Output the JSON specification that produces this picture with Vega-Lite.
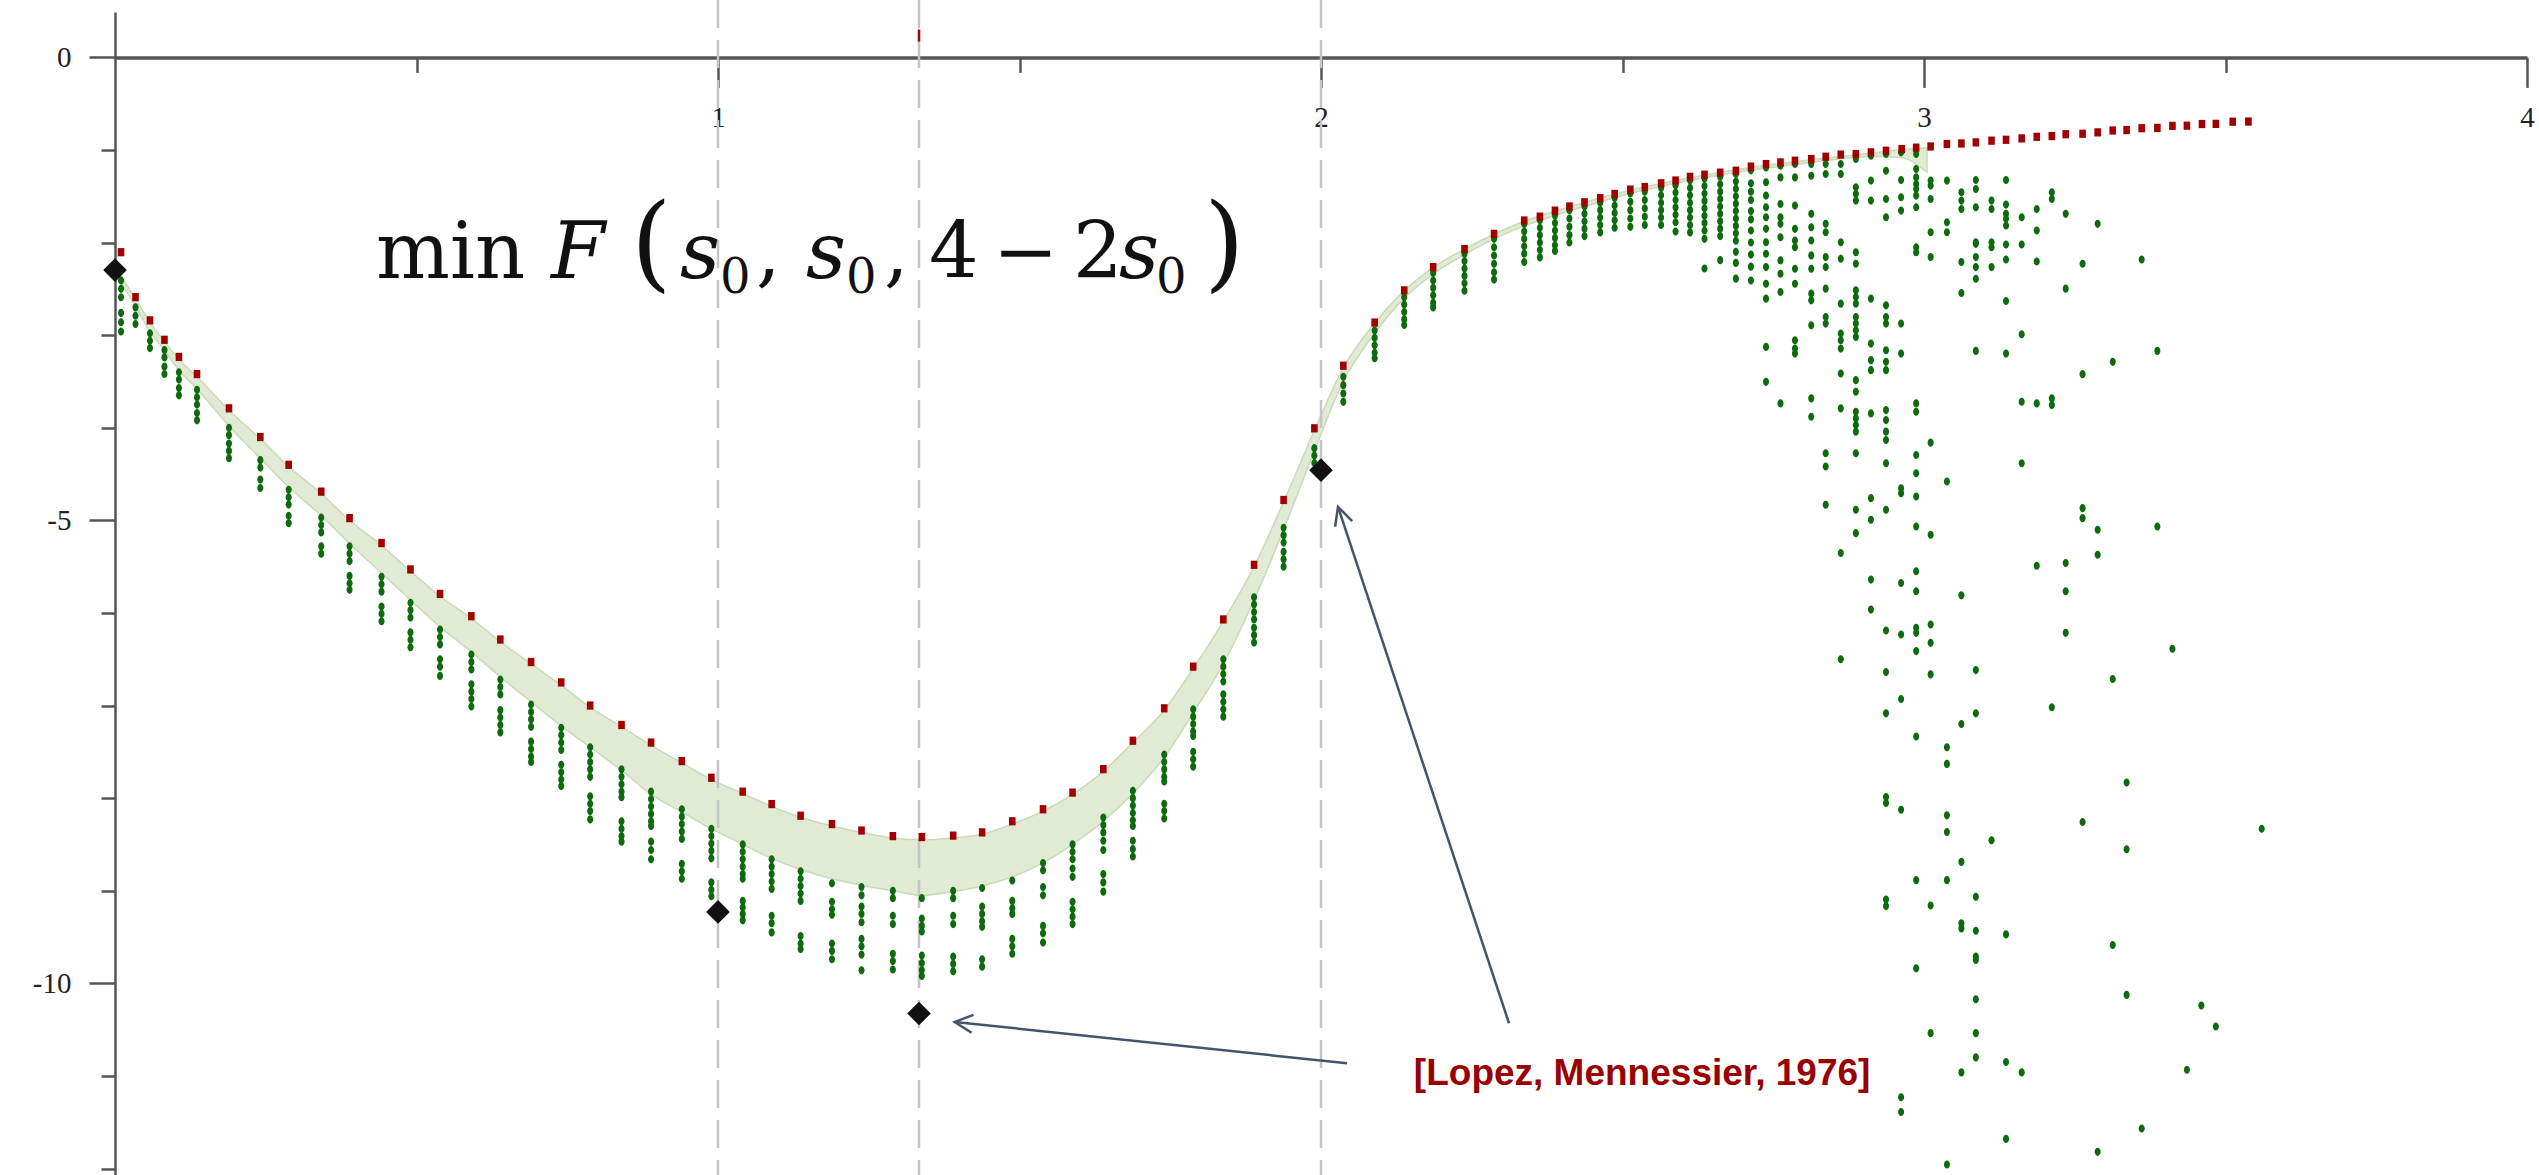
{
  "$schema": "https://vega.github.io/schema/vega-lite/v6.json",
  "width": 2412,
  "height": 1163,
  "autosize": {"type": "none"},
  "padding": {"left": 115, "top": 12, "right": 12, "bottom": 0},
  "background": "white",
  "config": {"view": {"stroke": null}},
  "datasets": {
    "band": [
      {"x":0.0,"y":-2.25,"y2":-2.33},{"x":0.034,"y":-2.61,"y2":-2.69},{"x":0.058,"y":-2.86,"y2":-2.96},{"x":0.082,"y":-3.07,"y2":-3.16},
      {"x":0.106,"y":-3.26,"y2":-3.38},{"x":0.136,"y":-3.45,"y2":-3.58},{"x":0.189,"y":-3.81,"y2":-3.98},{"x":0.241,"y":-4.12,"y2":-4.33},
      {"x":0.288,"y":-4.42,"y2":-4.64},{"x":0.342,"y":-4.71,"y2":-4.95},{"x":0.389,"y":-5.0,"y2":-5.25},{"x":0.442,"y":-5.27,"y2":-5.57},
      {"x":0.49,"y":-5.55,"y2":-5.86},{"x":0.539,"y":-5.82,"y2":-6.15},{"x":0.591,"y":-6.06,"y2":-6.42},{"x":0.639,"y":-6.31,"y2":-6.69},
      {"x":0.69,"y":-6.55,"y2":-6.96},{"x":0.74,"y":-6.78,"y2":-7.22},{"x":0.788,"y":-7.02,"y2":-7.45},{"x":0.84,"y":-7.23,"y2":-7.7},
      {"x":0.889,"y":-7.43,"y2":-7.96},{"x":0.94,"y":-7.62,"y2":-8.15},{"x":0.989,"y":-7.8,"y2":-8.33},{"x":1.041,"y":-7.95,"y2":-8.5},
      {"x":1.089,"y":-8.09,"y2":-8.65},{"x":1.137,"y":-8.21,"y2":-8.77},{"x":1.189,"y":-8.3,"y2":-8.87},{"x":1.238,"y":-8.37,"y2":-8.94},
      {"x":1.29,"y":-8.43,"y2":-9.0},{"x":1.338,"y":-8.45,"y2":-9.05},{"x":1.39,"y":-8.43,"y2":-9.01},{"x":1.438,"y":-8.39,"y2":-8.95},
      {"x":1.488,"y":-8.28,"y2":-8.85},{"x":1.539,"y":-8.14,"y2":-8.7},{"x":1.588,"y":-7.96,"y2":-8.5},{"x":1.639,"y":-7.71,"y2":-8.25},
      {"x":1.688,"y":-7.4,"y2":-7.95},{"x":1.74,"y":-7.05,"y2":-7.56},{"x":1.788,"y":-6.6,"y2":-7.08},{"x":1.838,"y":-6.09,"y2":-6.55},
      {"x":1.889,"y":-5.5,"y2":-5.86},{"x":1.938,"y":-4.8,"y2":-5.1},{"x":1.989,"y":-4.03,"y2":-4.25},{"x":2.037,"y":-3.35,"y2":-3.5},
      {"x":2.089,"y":-2.87,"y2":-2.98},{"x":2.138,"y":-2.52,"y2":-2.6},{"x":2.186,"y":-2.27,"y2":-2.34},{"x":2.238,"y":-2.07,"y2":-2.13},
      {"x":2.287,"y":-1.91,"y2":-1.96},{"x":2.337,"y":-1.77,"y2":-1.82},{"x":2.412,"y":-1.615,"y2":-1.66},{"x":2.513,"y":-1.435,"y2":-1.47},
      {"x":2.612,"y":-1.3,"y2":-1.33},{"x":2.713,"y":-1.19,"y2":-1.22},{"x":2.813,"y":-1.105,"y2":-1.135},{"x":2.912,"y":-1.035,"y2":-1.07},
      {"x":2.96,"y":-1.0,"y2":-1.08},{"x":3.005,"y":-0.975,"y2":-1.24}
    ],
    "marks": [{"x":1,"y":0.62,"y2":-12.07},{"x":1.3333333,"y":0.62,"y2":-12.07},{"x":2,"y":0.62,"y2":-12.07}],
    "red": [
      {"x":0.01,"y":-2.104},{"x":0.034,"y":-2.589},{"x":0.058,"y":-2.84},{"x":0.082,"y":-3.05},{"x":0.106,"y":-3.235},{"x":0.136,"y":-3.42},
      {"x":0.189,"y":-3.79},{"x":0.241,"y":-4.1},{"x":0.288,"y":-4.4},{"x":0.342,"y":-4.69},{"x":0.389,"y":-4.976},{"x":0.442,"y":-5.245},
      {"x":0.49,"y":-5.53},{"x":0.539,"y":-5.795},{"x":0.591,"y":-6.035},{"x":0.639,"y":-6.287},{"x":0.69,"y":-6.53},{"x":0.74,"y":-6.75},
      {"x":0.788,"y":-7.0},{"x":0.84,"y":-7.21},{"x":0.889,"y":-7.4},{"x":0.94,"y":-7.6},{"x":0.989,"y":-7.78},{"x":1.041,"y":-7.93},
      {"x":1.089,"y":-8.064},{"x":1.137,"y":-8.19},{"x":1.189,"y":-8.28},{"x":1.238,"y":-8.35},{"x":1.29,"y":-8.41},{"x":1.338,"y":-8.42},
      {"x":1.39,"y":-8.405},{"x":1.438,"y":-8.37},{"x":1.488,"y":-8.25},{"x":1.539,"y":-8.12},{"x":1.588,"y":-7.94},{"x":1.639,"y":-7.687},
      {"x":1.688,"y":-7.38},{"x":1.74,"y":-7.03},{"x":1.788,"y":-6.58},{"x":1.838,"y":-6.07},{"x":1.889,"y":-5.48},{"x":1.938,"y":-4.78},
      {"x":1.989,"y":-4.006},{"x":2.037,"y":-3.33},{"x":2.089,"y":-2.864},{"x":2.138,"y":-2.516},{"x":2.186,"y":-2.265},{"x":2.238,"y":-2.07},
      {"x":2.287,"y":-1.906},{"x":2.337,"y":-1.762},{"x":2.363,"y":-1.72},{"x":2.388,"y":-1.655},{"x":2.412,"y":-1.61},{"x":2.437,"y":-1.565},
      {"x":2.463,"y":-1.52},{"x":2.487,"y":-1.475},{"x":2.513,"y":-1.428},{"x":2.537,"y":-1.4},{"x":2.564,"y":-1.36},{"x":2.588,"y":-1.33},
      {"x":2.612,"y":-1.29},{"x":2.636,"y":-1.267},{"x":2.662,"y":-1.245},{"x":2.688,"y":-1.224},{"x":2.713,"y":-1.18},{"x":2.738,"y":-1.152},
      {"x":2.762,"y":-1.134},{"x":2.786,"y":-1.116},{"x":2.813,"y":-1.098},{"x":2.837,"y":-1.073},{"x":2.862,"y":-1.05},{"x":2.887,"y":-1.044},
      {"x":2.912,"y":-1.026},{"x":2.937,"y":-1.008},{"x":2.963,"y":-0.99},{"x":2.987,"y":-0.975},{"x":3.011,"y":-0.962},{"x":3.038,"y":-0.936},
      {"x":3.062,"y":-0.93},{"x":3.086,"y":-0.918},{"x":3.112,"y":-0.9},{"x":3.136,"y":-0.89},{"x":3.162,"y":-0.875},{"x":3.187,"y":-0.858},
      {"x":3.212,"y":-0.85},{"x":3.235,"y":-0.83},{"x":3.263,"y":-0.825},{"x":3.288,"y":-0.81},{"x":3.313,"y":-0.79},{"x":3.336,"y":-0.785},
      {"x":3.361,"y":-0.765},{"x":3.387,"y":-0.762},{"x":3.412,"y":-0.74},{"x":3.436,"y":-0.738},{"x":3.461,"y":-0.72},{"x":3.484,"y":-0.718},
      {"x":3.512,"y":-0.695},{"x":3.538,"y":-0.693}
    ],
    "diamonds": [{"x":0,"y":-2.297},{"x":1,"y":-9.229},{"x":1.3333333,"y":-10.326},{"x":2,"y":-4.458}],
    "arrows": [{"x":2.0431,"y":-10.863,"x2":1.3925,"y2":-10.417},{"x":2.3118,"y":-10.431,"x2":2.0282,"y2":-4.854}],
    "t_roman": [{"t":"min","x":0.4328,"y":-2.384},{"t":",","x":1.063,"y":-2.384},{"t":",","x":1.2753,"y":-2.384},{"t":"4","x":1.3499,"y":-2.384},{"t":"−","x":1.4561,"y":-2.384},{"t":"2","x":1.5887,"y":-2.384}],
    "t_italic": [{"t":"F","x":0.7231,"y":-2.384},{"t":"s","x":0.937,"y":-2.384},{"t":"s","x":1.1459,"y":-2.384},{"t":"s","x":1.665,"y":-2.384}],
    "t_sub": [{"t":"0","x":1.0033,"y":-2.546},{"t":"0","x":1.2123,"y":-2.546},{"t":"0","x":1.7264,"y":-2.546}],
    "t_paren": [{"t":"(","x":0.8557,"y":-2.384},{"t":")","x":1.806,"y":-2.384}],
    "green": [
      {"x":0.01,"y":-2.41},{"x":0.01,"y":-2.5},{"x":0.01,"y":-2.59},{"x":0.01,"y":-2.76},{"x":0.01,"y":-2.86},{"x":0.01,"y":-2.96},
      {"x":0.034,"y":-2.7},{"x":0.034,"y":-2.79},{"x":0.034,"y":-2.88},
      {"x":0.058,"y":-2.98},{"x":0.058,"y":-3.06},{"x":0.058,"y":-3.14},
      {"x":0.082,"y":-3.16},{"x":0.082,"y":-3.24},{"x":0.082,"y":-3.34},{"x":0.082,"y":-3.42},
      {"x":0.106,"y":-3.4},{"x":0.106,"y":-3.48},{"x":0.106,"y":-3.57},{"x":0.106,"y":-3.65},
      {"x":0.136,"y":-3.59},{"x":0.136,"y":-3.67},{"x":0.136,"y":-3.75},{"x":0.136,"y":-3.84},{"x":0.136,"y":-3.92},
      {"x":0.189,"y":-4.0},{"x":0.189,"y":-4.08},{"x":0.189,"y":-4.17},{"x":0.189,"y":-4.25},{"x":0.189,"y":-4.33},
      {"x":0.241,"y":-4.35},{"x":0.241,"y":-4.43},{"x":0.241,"y":-4.56},{"x":0.241,"y":-4.65},
      {"x":0.288,"y":-4.67},{"x":0.288,"y":-4.75},{"x":0.288,"y":-4.83},{"x":0.288,"y":-4.95},{"x":0.288,"y":-5.03},
      {"x":0.342,"y":-4.97},{"x":0.342,"y":-5.05},{"x":0.342,"y":-5.13},{"x":0.342,"y":-5.28},{"x":0.342,"y":-5.36},
      {"x":0.389,"y":-5.28},{"x":0.389,"y":-5.36},{"x":0.389,"y":-5.44},{"x":0.389,"y":-5.6},{"x":0.389,"y":-5.68},{"x":0.389,"y":-5.75},
      {"x":0.442,"y":-5.61},{"x":0.442,"y":-5.69},{"x":0.442,"y":-5.77},{"x":0.442,"y":-5.93},{"x":0.442,"y":-6.01},{"x":0.442,"y":-6.09},
      {"x":0.49,"y":-5.89},{"x":0.49,"y":-5.97},{"x":0.49,"y":-6.05},{"x":0.49,"y":-6.21},{"x":0.49,"y":-6.29},{"x":0.49,"y":-6.37},
      {"x":0.539,"y":-6.18},{"x":0.539,"y":-6.26},{"x":0.539,"y":-6.34},{"x":0.539,"y":-6.5},{"x":0.539,"y":-6.58},{"x":0.539,"y":-6.68},
      {"x":0.591,"y":-6.45},{"x":0.591,"y":-6.53},{"x":0.591,"y":-6.61},{"x":0.591,"y":-6.77},{"x":0.591,"y":-6.85},{"x":0.591,"y":-6.93},{"x":0.591,"y":-7.01},
      {"x":0.639,"y":-6.72},{"x":0.639,"y":-6.8},{"x":0.639,"y":-6.88},{"x":0.639,"y":-7.05},{"x":0.639,"y":-7.13},{"x":0.639,"y":-7.21},{"x":0.639,"y":-7.29},
      {"x":0.69,"y":-6.99},{"x":0.69,"y":-7.07},{"x":0.69,"y":-7.15},{"x":0.69,"y":-7.23},{"x":0.69,"y":-7.39},{"x":0.69,"y":-7.47},{"x":0.69,"y":-7.55},{"x":0.69,"y":-7.61},
      {"x":0.74,"y":-7.24},{"x":0.74,"y":-7.32},{"x":0.74,"y":-7.4},{"x":0.74,"y":-7.48},{"x":0.74,"y":-7.64},{"x":0.74,"y":-7.72},{"x":0.74,"y":-7.8},{"x":0.74,"y":-7.87},
      {"x":0.788,"y":-7.45},{"x":0.788,"y":-7.53},{"x":0.788,"y":-7.61},{"x":0.788,"y":-7.69},{"x":0.788,"y":-7.77},{"x":0.788,"y":-7.98},{"x":0.788,"y":-8.06},{"x":0.788,"y":-8.14},{"x":0.788,"y":-8.23},
      {"x":0.84,"y":-7.69},{"x":0.84,"y":-7.77},{"x":0.84,"y":-7.85},{"x":0.84,"y":-7.93},{"x":0.84,"y":-7.99},{"x":0.84,"y":-8.25},{"x":0.84,"y":-8.33},{"x":0.84,"y":-8.41},{"x":0.84,"y":-8.47},
      {"x":0.889,"y":-7.93},{"x":0.889,"y":-8.01},{"x":0.889,"y":-8.09},{"x":0.889,"y":-8.17},{"x":0.889,"y":-8.25},{"x":0.889,"y":-8.3},{"x":0.889,"y":-8.47},{"x":0.889,"y":-8.56},{"x":0.889,"y":-8.66},
      {"x":0.94,"y":-8.12},{"x":0.94,"y":-8.2},{"x":0.94,"y":-8.28},{"x":0.94,"y":-8.36},{"x":0.94,"y":-8.44},{"x":0.94,"y":-8.71},{"x":0.94,"y":-8.79},{"x":0.94,"y":-8.87},
      {"x":0.989,"y":-8.33},{"x":0.989,"y":-8.41},{"x":0.989,"y":-8.49},{"x":0.989,"y":-8.57},{"x":0.989,"y":-8.65},{"x":0.989,"y":-8.91},{"x":0.989,"y":-8.99},{"x":0.989,"y":-9.06},
      {"x":1.041,"y":-8.5},{"x":1.041,"y":-8.58},{"x":1.041,"y":-8.66},{"x":1.041,"y":-8.74},{"x":1.041,"y":-8.82},{"x":1.041,"y":-8.87},{"x":1.041,"y":-9.11},{"x":1.041,"y":-9.18},{"x":1.041,"y":-9.25},{"x":1.041,"y":-9.32},
      {"x":1.089,"y":-8.66},{"x":1.089,"y":-8.74},{"x":1.089,"y":-8.82},{"x":1.089,"y":-8.9},{"x":1.089,"y":-8.98},{"x":1.089,"y":-9.27},{"x":1.089,"y":-9.35},{"x":1.089,"y":-9.45},
      {"x":1.137,"y":-8.79},{"x":1.137,"y":-8.87},{"x":1.137,"y":-8.95},{"x":1.137,"y":-9.03},{"x":1.137,"y":-9.11},{"x":1.137,"y":-9.49},{"x":1.137,"y":-9.57},{"x":1.137,"y":-9.63},
      {"x":1.189,"y":-8.92},{"x":1.189,"y":-9.12},{"x":1.189,"y":-9.2},{"x":1.189,"y":-9.26},{"x":1.189,"y":-9.57},{"x":1.189,"y":-9.65},{"x":1.189,"y":-9.74},
      {"x":1.238,"y":-8.96},{"x":1.238,"y":-9.05},{"x":1.238,"y":-9.17},{"x":1.238,"y":-9.25},{"x":1.238,"y":-9.34},{"x":1.238,"y":-9.52},{"x":1.238,"y":-9.6},{"x":1.238,"y":-9.69},{"x":1.238,"y":-9.86},
      {"x":1.29,"y":-9.0},{"x":1.29,"y":-9.08},{"x":1.29,"y":-9.27},{"x":1.29,"y":-9.36},{"x":1.29,"y":-9.68},{"x":1.29,"y":-9.76},{"x":1.29,"y":-9.85},
      {"x":1.338,"y":-9.08},{"x":1.338,"y":-9.3},{"x":1.338,"y":-9.38},{"x":1.338,"y":-9.44},{"x":1.338,"y":-9.7},{"x":1.338,"y":-9.78},{"x":1.338,"y":-9.86},{"x":1.338,"y":-9.92},
      {"x":1.39,"y":-9.0},{"x":1.39,"y":-9.08},{"x":1.39,"y":-9.27},{"x":1.39,"y":-9.36},{"x":1.39,"y":-9.71},{"x":1.39,"y":-9.79},{"x":1.39,"y":-9.87},
      {"x":1.438,"y":-8.97},{"x":1.438,"y":-9.17},{"x":1.438,"y":-9.25},{"x":1.438,"y":-9.33},{"x":1.438,"y":-9.39},{"x":1.438,"y":-9.74},{"x":1.438,"y":-9.82},
      {"x":1.488,"y":-8.89},{"x":1.488,"y":-9.11},{"x":1.488,"y":-9.19},{"x":1.488,"y":-9.25},{"x":1.488,"y":-9.52},{"x":1.488,"y":-9.6},{"x":1.488,"y":-9.68},
      {"x":1.539,"y":-8.7},{"x":1.539,"y":-8.78},{"x":1.539,"y":-8.96},{"x":1.539,"y":-9.05},{"x":1.539,"y":-9.38},{"x":1.539,"y":-9.46},{"x":1.539,"y":-9.56},
      {"x":1.588,"y":-8.5},{"x":1.588,"y":-8.58},{"x":1.588,"y":-8.66},{"x":1.588,"y":-8.76},{"x":1.588,"y":-8.85},{"x":1.588,"y":-9.12},{"x":1.588,"y":-9.2},{"x":1.588,"y":-9.28},{"x":1.588,"y":-9.36},
      {"x":1.639,"y":-8.21},{"x":1.639,"y":-8.29},{"x":1.639,"y":-8.37},{"x":1.639,"y":-8.46},{"x":1.639,"y":-8.56},{"x":1.639,"y":-8.82},{"x":1.639,"y":-8.91},{"x":1.639,"y":-9.01},
      {"x":1.688,"y":-7.92},{"x":1.688,"y":-8.0},{"x":1.688,"y":-8.08},{"x":1.688,"y":-8.16},{"x":1.688,"y":-8.24},{"x":1.688,"y":-8.3},{"x":1.688,"y":-8.46},{"x":1.688,"y":-8.55},{"x":1.688,"y":-8.63},
      {"x":1.74,"y":-7.53},{"x":1.74,"y":-7.61},{"x":1.74,"y":-7.69},{"x":1.74,"y":-7.77},{"x":1.74,"y":-7.82},{"x":1.74,"y":-8.06},{"x":1.74,"y":-8.14},{"x":1.74,"y":-8.22},
      {"x":1.788,"y":-7.04},{"x":1.788,"y":-7.12},{"x":1.788,"y":-7.2},{"x":1.788,"y":-7.28},{"x":1.788,"y":-7.33},{"x":1.788,"y":-7.5},{"x":1.788,"y":-7.58},{"x":1.788,"y":-7.66},
      {"x":1.838,"y":-6.5},{"x":1.838,"y":-6.58},{"x":1.838,"y":-6.66},{"x":1.838,"y":-6.74},{"x":1.838,"y":-6.88},{"x":1.838,"y":-6.96},{"x":1.838,"y":-7.04},{"x":1.838,"y":-7.12},
      {"x":1.889,"y":-5.83},{"x":1.889,"y":-5.91},{"x":1.889,"y":-5.99},{"x":1.889,"y":-6.07},{"x":1.889,"y":-6.16},{"x":1.889,"y":-6.24},{"x":1.889,"y":-6.32},
      {"x":1.938,"y":-5.08},{"x":1.938,"y":-5.16},{"x":1.938,"y":-5.24},{"x":1.938,"y":-5.34},{"x":1.938,"y":-5.42},{"x":1.938,"y":-5.5},
      {"x":1.989,"y":-4.22},{"x":1.989,"y":-4.3},{"x":1.989,"y":-4.38},
      {"x":2.037,"y":-3.45},{"x":2.037,"y":-3.54},{"x":2.037,"y":-3.63},{"x":2.037,"y":-3.72},
      {"x":2.089,"y":-2.95},{"x":2.089,"y":-3.03},{"x":2.089,"y":-3.11},{"x":2.089,"y":-3.19},{"x":2.089,"y":-3.25},
      {"x":2.138,"y":-2.59},{"x":2.138,"y":-2.67},{"x":2.138,"y":-2.75},{"x":2.138,"y":-2.83},{"x":2.138,"y":-2.89},
      {"x":2.186,"y":-2.33},{"x":2.186,"y":-2.41},{"x":2.186,"y":-2.49},{"x":2.186,"y":-2.57},{"x":2.186,"y":-2.65},{"x":2.186,"y":-2.7},
      {"x":2.238,"y":-2.12},{"x":2.238,"y":-2.2},{"x":2.238,"y":-2.28},{"x":2.238,"y":-2.36},{"x":2.238,"y":-2.44},{"x":2.238,"y":-2.52},
      {"x":2.287,"y":-1.96},{"x":2.287,"y":-2.05},{"x":2.287,"y":-2.14},{"x":2.287,"y":-2.23},{"x":2.287,"y":-2.32},{"x":2.287,"y":-2.4},
      {"x":2.337,"y":-1.8},{"x":2.337,"y":-1.88},{"x":2.337,"y":-1.96},{"x":2.337,"y":-2.04},{"x":2.337,"y":-2.12},{"x":2.337,"y":-2.21},
      {"x":2.363,"y":-1.76},{"x":2.363,"y":-1.84},{"x":2.363,"y":-1.92},{"x":2.363,"y":-2.0},{"x":2.363,"y":-2.08},{"x":2.363,"y":-2.16},
      {"x":2.388,"y":-1.71},{"x":2.388,"y":-1.79},{"x":2.388,"y":-1.87},{"x":2.388,"y":-1.95},{"x":2.388,"y":-2.03},{"x":2.388,"y":-2.09},
      {"x":2.412,"y":-1.65},{"x":2.412,"y":-1.74},{"x":2.412,"y":-1.83},{"x":2.412,"y":-1.92},{"x":2.412,"y":-2.0},
      {"x":2.437,"y":-1.61},{"x":2.437,"y":-1.69},{"x":2.437,"y":-1.77},{"x":2.437,"y":-1.85},{"x":2.437,"y":-1.93},
      {"x":2.463,"y":-1.57},{"x":2.463,"y":-1.65},{"x":2.463,"y":-1.73},{"x":2.463,"y":-1.81},{"x":2.463,"y":-1.89},
      {"x":2.487,"y":-1.52},{"x":2.487,"y":-1.6},{"x":2.487,"y":-1.68},{"x":2.487,"y":-1.76},{"x":2.487,"y":-1.84},
      {"x":2.513,"y":-1.47},{"x":2.513,"y":-1.56},{"x":2.513,"y":-1.65},{"x":2.513,"y":-1.74},{"x":2.513,"y":-1.83},
      {"x":2.537,"y":-1.45},{"x":2.537,"y":-1.54},{"x":2.537,"y":-1.63},{"x":2.537,"y":-1.72},{"x":2.537,"y":-1.81},
      {"x":2.564,"y":-1.41},{"x":2.564,"y":-1.49},{"x":2.564,"y":-1.57},{"x":2.564,"y":-1.65},{"x":2.564,"y":-1.73},{"x":2.564,"y":-1.81},
      {"x":2.588,"y":-1.38},{"x":2.588,"y":-1.46},{"x":2.588,"y":-1.54},{"x":2.588,"y":-1.62},{"x":2.588,"y":-1.7},{"x":2.588,"y":-1.78},{"x":2.588,"y":-1.88},
      {"x":2.612,"y":-1.33},{"x":2.612,"y":-1.41},{"x":2.612,"y":-1.49},{"x":2.612,"y":-1.57},{"x":2.612,"y":-1.65},{"x":2.612,"y":-1.73},{"x":2.612,"y":-1.81},{"x":2.612,"y":-1.89},
      {"x":2.636,"y":-1.31},{"x":2.636,"y":-1.39},{"x":2.636,"y":-1.47},{"x":2.636,"y":-1.55},{"x":2.636,"y":-1.63},{"x":2.636,"y":-1.71},{"x":2.636,"y":-1.79},{"x":2.636,"y":-1.87},{"x":2.636,"y":-1.96},{"x":2.636,"y":-2.28},
      {"x":2.662,"y":-1.29},{"x":2.662,"y":-1.37},{"x":2.662,"y":-1.45},{"x":2.662,"y":-1.53},{"x":2.662,"y":-1.61},{"x":2.662,"y":-1.69},{"x":2.662,"y":-1.77},{"x":2.662,"y":-1.85},{"x":2.662,"y":-1.93},{"x":2.662,"y":-2.19},
      {"x":2.688,"y":-1.26},{"x":2.688,"y":-1.34},{"x":2.688,"y":-1.42},{"x":2.688,"y":-1.5},{"x":2.688,"y":-1.58},{"x":2.688,"y":-1.66},{"x":2.688,"y":-1.74},{"x":2.688,"y":-1.82},{"x":2.688,"y":-1.9},{"x":2.688,"y":-1.98},{"x":2.688,"y":-2.1},{"x":2.688,"y":-2.22},{"x":2.688,"y":-2.39},
      {"x":2.713,"y":-1.22},{"x":2.713,"y":-1.36},{"x":2.713,"y":-1.45},{"x":2.713,"y":-1.54},{"x":2.713,"y":-1.66},{"x":2.713,"y":-1.75},{"x":2.713,"y":-1.87},{"x":2.713,"y":-2.0},{"x":2.713,"y":-2.13},{"x":2.713,"y":-2.26},{"x":2.713,"y":-2.41},
      {"x":2.738,"y":-1.188},{"x":2.738,"y":-1.349},{"x":2.738,"y":-1.493},{"x":2.738,"y":-1.619},{"x":2.738,"y":-1.726},{"x":2.738,"y":-1.852},{"x":2.738,"y":-1.996},{"x":2.738,"y":-2.121},{"x":2.738,"y":-2.265},{"x":2.738,"y":-2.445},{"x":2.738,"y":-2.606},{"x":2.738,"y":-3.127},{"x":2.738,"y":-3.504},
      {"x":2.762,"y":-1.17},{"x":2.762,"y":-1.296},{"x":2.762,"y":-1.583},{"x":2.762,"y":-1.726},{"x":2.762,"y":-1.798},{"x":2.762,"y":-1.942},{"x":2.762,"y":-2.193},{"x":2.762,"y":-2.337},{"x":2.762,"y":-2.534},{"x":2.762,"y":-3.737},
      {"x":2.786,"y":-1.152},{"x":2.786,"y":-1.296},{"x":2.786,"y":-1.601},{"x":2.786,"y":-1.852},{"x":2.786,"y":-1.978},{"x":2.786,"y":-2.05},{"x":2.786,"y":-2.283},{"x":2.786,"y":-2.445},{"x":2.786,"y":-3.055},{"x":2.786,"y":-3.145},{"x":2.786,"y":-3.199},
      {"x":2.813,"y":-1.152},{"x":2.813,"y":-1.278},{"x":2.813,"y":-1.69},{"x":2.813,"y":-1.834},{"x":2.813,"y":-1.978},{"x":2.813,"y":-2.139},{"x":2.813,"y":-2.283},{"x":2.813,"y":-2.552},{"x":2.813,"y":-2.624},{"x":2.813,"y":-2.893},{"x":2.813,"y":-3.683},{"x":2.813,"y":-3.881},
      {"x":2.837,"y":-1.152},{"x":2.837,"y":-1.26},{"x":2.837,"y":-1.798},{"x":2.837,"y":-1.888},{"x":2.837,"y":-2.157},{"x":2.837,"y":-2.265},{"x":2.837,"y":-2.498},{"x":2.837,"y":-2.804},{"x":2.837,"y":-2.875},{"x":2.837,"y":-4.276},{"x":2.837,"y":-4.419},{"x":2.837,"y":-4.832},
      {"x":2.862,"y":-1.152},{"x":2.862,"y":-1.26},{"x":2.862,"y":-1.996},{"x":2.862,"y":-2.175},{"x":2.862,"y":-2.66},{"x":2.862,"y":-2.983},{"x":2.862,"y":-3.055},{"x":2.862,"y":-3.145},{"x":2.862,"y":-3.414},{"x":2.862,"y":-3.791},{"x":2.862,"y":-5.353},{"x":2.862,"y":-6.5},
      {"x":2.887,"y":-1.098},{"x":2.887,"y":-1.403},{"x":2.887,"y":-1.475},{"x":2.887,"y":-1.547},{"x":2.887,"y":-2.104},{"x":2.887,"y":-2.229},{"x":2.887,"y":-2.516},{"x":2.887,"y":-2.588},{"x":2.887,"y":-2.66},{"x":2.887,"y":-2.804},{"x":2.887,"y":-2.875},{"x":2.887,"y":-2.947},{"x":2.887,"y":-3.019},{"x":2.887,"y":-3.486},{"x":2.887,"y":-3.611},{"x":2.887,"y":-3.827},{"x":2.887,"y":-3.899},{"x":2.887,"y":-3.97},{"x":2.887,"y":-4.042},{"x":2.887,"y":-4.276},{"x":2.887,"y":-4.886},{"x":2.887,"y":-5.138},
      {"x":2.912,"y":-1.062},{"x":2.912,"y":-1.331},{"x":2.912,"y":-1.547},{"x":2.912,"y":-2.606},{"x":2.912,"y":-3.091},{"x":2.912,"y":-3.27},{"x":2.912,"y":-3.378},{"x":2.912,"y":-3.845},{"x":2.912,"y":-4.76},{"x":2.912,"y":-4.994},{"x":2.912,"y":-5.64},{"x":2.912,"y":-5.964},
      {"x":2.937,"y":-1.044},{"x":2.937,"y":-1.224},{"x":2.937,"y":-1.529},{"x":2.937,"y":-1.726},{"x":2.937,"y":-2.678},{"x":2.937,"y":-2.804},{"x":2.937,"y":-2.875},{"x":2.937,"y":-3.163},{"x":2.937,"y":-3.288},{"x":2.937,"y":-3.378},{"x":2.937,"y":-3.809},{"x":2.937,"y":-3.917},{"x":2.937,"y":-4.042},{"x":2.937,"y":-4.132},{"x":2.937,"y":-4.384},{"x":2.937,"y":-4.886},{"x":2.937,"y":-6.19},{"x":2.937,"y":-6.639},{"x":2.937,"y":-7.084},{"x":2.937,"y":-7.989},{"x":2.937,"y":-8.053},{"x":2.937,"y":-9.095},{"x":2.937,"y":-9.166},
      {"x":2.962,"y":-1.026},{"x":2.962,"y":-1.324},{"x":2.962,"y":-1.511},{"x":2.962,"y":-1.655},{"x":2.962,"y":-2.875},{"x":2.962,"y":-3.199},{"x":2.962,"y":-4.653},{"x":2.962,"y":-4.707},{"x":2.962,"y":-5.676},{"x":2.962,"y":-6.233},{"x":2.962,"y":-6.929},{"x":2.962,"y":-8.125},{"x":2.962,"y":-11.231},{"x":2.962,"y":-11.389},
      {"x":2.987,"y":-1.044},{"x":2.987,"y":-1.206},{"x":2.987,"y":-1.296},{"x":2.987,"y":-1.367},{"x":2.987,"y":-1.421},{"x":2.987,"y":-1.493},{"x":2.987,"y":-1.619},{"x":2.987,"y":-2.05},{"x":2.987,"y":-2.104},{"x":2.987,"y":-3.737},{"x":2.987,"y":-3.827},{"x":2.987,"y":-4.294},{"x":2.987,"y":-4.491},{"x":2.987,"y":-4.743},{"x":2.987,"y":-5.066},{"x":2.987,"y":-5.55},{"x":2.987,"y":-5.766},{"x":2.987,"y":-6.161},{"x":2.987,"y":-6.215},{"x":2.987,"y":-6.412},{"x":2.987,"y":-7.335},{"x":2.987,"y":-8.886},{"x":2.987,"y":-9.838},
      {"x":3.011,"y":-1.331},{"x":3.011,"y":-1.385},{"x":3.011,"y":-1.529},{"x":3.011,"y":-1.888},{"x":3.011,"y":-2.157},{"x":3.011,"y":-4.161},{"x":3.011,"y":-5.156},{"x":3.011,"y":-6.125},{"x":3.011,"y":-6.323},{"x":3.011,"y":-6.664},{"x":3.011,"y":-9.159},{"x":3.011,"y":-10.538},
      {"x":3.038,"y":-1.331},{"x":3.038,"y":-1.78},{"x":3.038,"y":-1.888},{"x":3.038,"y":-4.581},{"x":3.038,"y":-7.45},{"x":3.038,"y":-7.63},{"x":3.038,"y":-8.186},{"x":3.038,"y":-8.366},{"x":3.038,"y":-8.886},{"x":3.038,"y":-11.956},
      {"x":3.062,"y":-1.457},{"x":3.062,"y":-1.547},{"x":3.062,"y":-1.637},{"x":3.062,"y":-2.211},{"x":3.062,"y":-2.545},{"x":3.062,"y":-5.81},{"x":3.062,"y":-7.199},{"x":3.062,"y":-8.689},{"x":3.062,"y":-9.353},{"x":3.062,"y":-9.407},{"x":3.062,"y":-10.962},
      {"x":3.086,"y":-1.324},{"x":3.086,"y":-1.421},{"x":3.086,"y":-1.619},{"x":3.086,"y":-1.996},{"x":3.086,"y":-2.014},{"x":3.086,"y":-2.157},{"x":3.086,"y":-2.265},{"x":3.086,"y":-2.391},{"x":3.086,"y":-3.17},{"x":3.086,"y":-6.617},{"x":3.086,"y":-7.084},{"x":3.086,"y":-9.066},{"x":3.086,"y":-9.432},{"x":3.086,"y":-9.712},{"x":3.086,"y":-9.748},{"x":3.086,"y":-10.172},{"x":3.086,"y":-10.538},{"x":3.086,"y":-10.8},
      {"x":3.112,"y":-1.547},{"x":3.112,"y":-1.637},{"x":3.112,"y":-1.996},{"x":3.112,"y":-2.05},{"x":3.112,"y":-2.265},{"x":3.112,"y":-8.455},
      {"x":3.136,"y":-1.324},{"x":3.136,"y":-1.59},{"x":3.136,"y":-1.69},{"x":3.136,"y":-1.744},{"x":3.136,"y":-1.816},{"x":3.136,"y":-2.021},{"x":3.136,"y":-2.183},{"x":3.136,"y":-2.631},{"x":3.136,"y":-3.199},{"x":3.136,"y":-9.472},{"x":3.136,"y":-10.85},{"x":3.136,"y":-11.68},
      {"x":3.162,"y":-1.726},{"x":3.162,"y":-2.021},{"x":3.162,"y":-2.99},{"x":3.162,"y":-3.719},{"x":3.162,"y":-4.384},{"x":3.162,"y":-10.962},
      {"x":3.187,"y":-1.637},{"x":3.187,"y":-1.87},{"x":3.187,"y":-2.204},{"x":3.187,"y":-3.737},{"x":3.187,"y":-5.49},
      {"x":3.212,"y":-1.457},{"x":3.212,"y":-1.529},{"x":3.212,"y":-3.683},{"x":3.212,"y":-3.755},{"x":3.212,"y":-7.019},
      {"x":3.235,"y":-1.69},{"x":3.235,"y":-2.498},{"x":3.235,"y":-5.461},{"x":3.235,"y":-5.766},{"x":3.235,"y":-6.215},
      {"x":3.263,"y":-2.229},{"x":3.263,"y":-3.421},{"x":3.263,"y":-4.868},{"x":3.263,"y":-4.976},{"x":3.263,"y":-8.258},
      {"x":3.288,"y":-1.798},{"x":3.288,"y":-5.102},{"x":3.288,"y":-5.371},{"x":3.288,"y":-11.82},
      {"x":3.313,"y":-3.288},{"x":3.313,"y":-6.714},{"x":3.313,"y":-9.586},
      {"x":3.336,"y":-7.831},{"x":3.336,"y":-8.552},{"x":3.336,"y":-10.125},
      {"x":3.361,"y":-2.183},{"x":3.361,"y":-11.568},
      {"x":3.387,"y":-3.17},{"x":3.387,"y":-5.066},
      {"x":3.412,"y":-6.387},{"x":3.436,"y":-10.933},{"x":3.46,"y":-10.24},{"x":3.484,"y":-10.466},{"x":3.56,"y":-8.33}
    ]
  },
  "encoding": {
    "x": {"field": "x", "type": "quantitative", "scale": {"domain": [0, 4], "nice": false, "zero": false},
      "axis": {"values": [0.5, 1, 1.5, 2, 2.5, 3, 3.5, 4], "orient": "bottom", "offset": -1117.6, "title": null, "grid": false,
        "domainColor": "#555555", "domainWidth": 3.5, "tickColor": "#555555", "tickWidth": 2.5, "tickSize": 30,
        "tickDash": {"condition": {"test": "datum.value % 1 !== 0", "value": [15, 60]}, "value": [40, 0]},
        "labelExpr": "datum.value % 1 === 0 ? '' + datum.value : ''",
        "labelFont": "Liberation Serif", "labelFontSize": 29, "labelColor": "#222222", "labelPadding": 16, "labelFlush": false, "labelOverlap": false}},
    "y": {"field": "y", "type": "quantitative", "scale": {"domain": [-12.07, 0.49], "nice": false, "zero": false},
      "axis": {"values": [0, -1, -2, -3, -4, -5, -6, -7, -8, -9, -10, -11, -12], "orient": "left", "title": null, "grid": false,
        "domainColor": "#555555", "domainWidth": 2.5, "tickColor": "#555555", "tickWidth": 2.5, "tickSize": 26,
        "tickDash": {"condition": {"test": "datum.value % 5 !== 0", "value": [14, 60]}, "value": [40, 0]},
        "labelExpr": "datum.value % 5 === 0 ? (datum.value < 0 ? '-' + (-datum.value) : '0') : ''",
        "labelFont": "Liberation Serif", "labelFontSize": 29, "labelColor": "#222222", "labelPadding": 18, "labelOverlap": false}}
  },
  "layer": [
    {
      "data": {"name": "band"},
      "mark": {"type": "area", "interpolate": "monotone", "fill": "#e1ead4", "stroke": "#cbd9b7", "strokeWidth": 1.5},
      "encoding": {"y2": {"field": "y2"}}
    },
    {
      "data": {"name": "marks"},
      "mark": {"type": "rule", "stroke": "#c4c4c4", "strokeWidth": 2.5, "strokeDash": [28, 12]},
      "encoding": {"y2": {"field": "y2"}}
    },
    {
      "data": {"values": [{"x": 1.3333333, "y": 0.3, "y2": 0.17}]},
      "mark": {"type": "rule", "stroke": "#b00000", "strokeWidth": 2.5},
      "encoding": {"y2": {"field": "y2"}}
    },
    {
      "data": {"name": "green"},
      "mark": {"type": "point", "shape": "M -0.75 0 A 0.75 1 0 1 0 0.75 0 A 0.75 1 0 1 0 -0.75 0 Z", "size": 66, "filled": true, "color": "#0d6b0d", "opacity": 1}
    },
    {
      "data": {"name": "red"},
      "mark": {"type": "point", "shape": "M -0.8 -1 L 0.8 -1 L 0.8 1 L -0.8 1 Z", "size": 68, "filled": true, "color": "#a00000", "opacity": 1}
    },
    {
      "data": {"name": "diamonds"},
      "mark": {"type": "point", "shape": "diamond", "size": 560, "filled": true, "color": "#111111", "opacity": 1}
    },
    {
      "data": {"name": "arrows"},
      "mark": {"type": "rule", "stroke": "#44546a", "strokeWidth": 2.5},
      "encoding": {"x2": {"field": "x2"}, "y2": {"field": "y2"}}
    },
    {
      "data": {"values": [{"x": 1.3925, "y": -10.417}]},
      "mark": {"type": "point", "shape": "M -0.5 1 L 0 0 L 0.5 1", "size": 1296, "filled": false, "stroke": "#44546a", "strokeWidth": 2.5, "angle": 276, "opacity": 1}
    },
    {
      "data": {"values": [{"x": 2.0282, "y": -4.854}]},
      "mark": {"type": "point", "shape": "M -0.5 1 L 0 0 L 0.5 1", "size": 1296, "filled": false, "stroke": "#44546a", "strokeWidth": 2.5, "angle": 341.7, "opacity": 1}
    },
    {
      "data": {"values": [{"t": "[Lopez, Mennessier, 1976]", "x": 2.154, "y": -11.1}]},
      "mark": {"type": "text", "font": "Liberation Sans", "fontWeight": "bold", "fontSize": 37, "align": "left", "baseline": "alphabetic", "color": "#990000"},
      "encoding": {"text": {"field": "t"}}
    },
    {
      "data": {"name": "t_roman"},
      "mark": {"type": "text", "font": "DejaVu Serif", "fontSize": 78, "align": "left", "baseline": "alphabetic", "color": "#111111"},
      "encoding": {"text": {"field": "t"}}
    },
    {
      "data": {"name": "t_italic"},
      "mark": {"type": "text", "font": "DejaVu Serif", "fontStyle": "italic", "fontSize": 78, "align": "left", "baseline": "alphabetic", "color": "#111111"},
      "encoding": {"text": {"field": "t"}}
    },
    {
      "data": {"name": "t_sub"},
      "mark": {"type": "text", "font": "DejaVu Serif", "fontSize": 48, "align": "left", "baseline": "alphabetic", "color": "#111111"},
      "encoding": {"text": {"field": "t"}}
    },
    {
      "data": {"name": "t_paren"},
      "mark": {"type": "text", "font": "DejaVu Serif", "fontSize": 104, "align": "left", "baseline": "alphabetic", "color": "#111111"},
      "encoding": {"text": {"field": "t"}}
    }
  ]
}
